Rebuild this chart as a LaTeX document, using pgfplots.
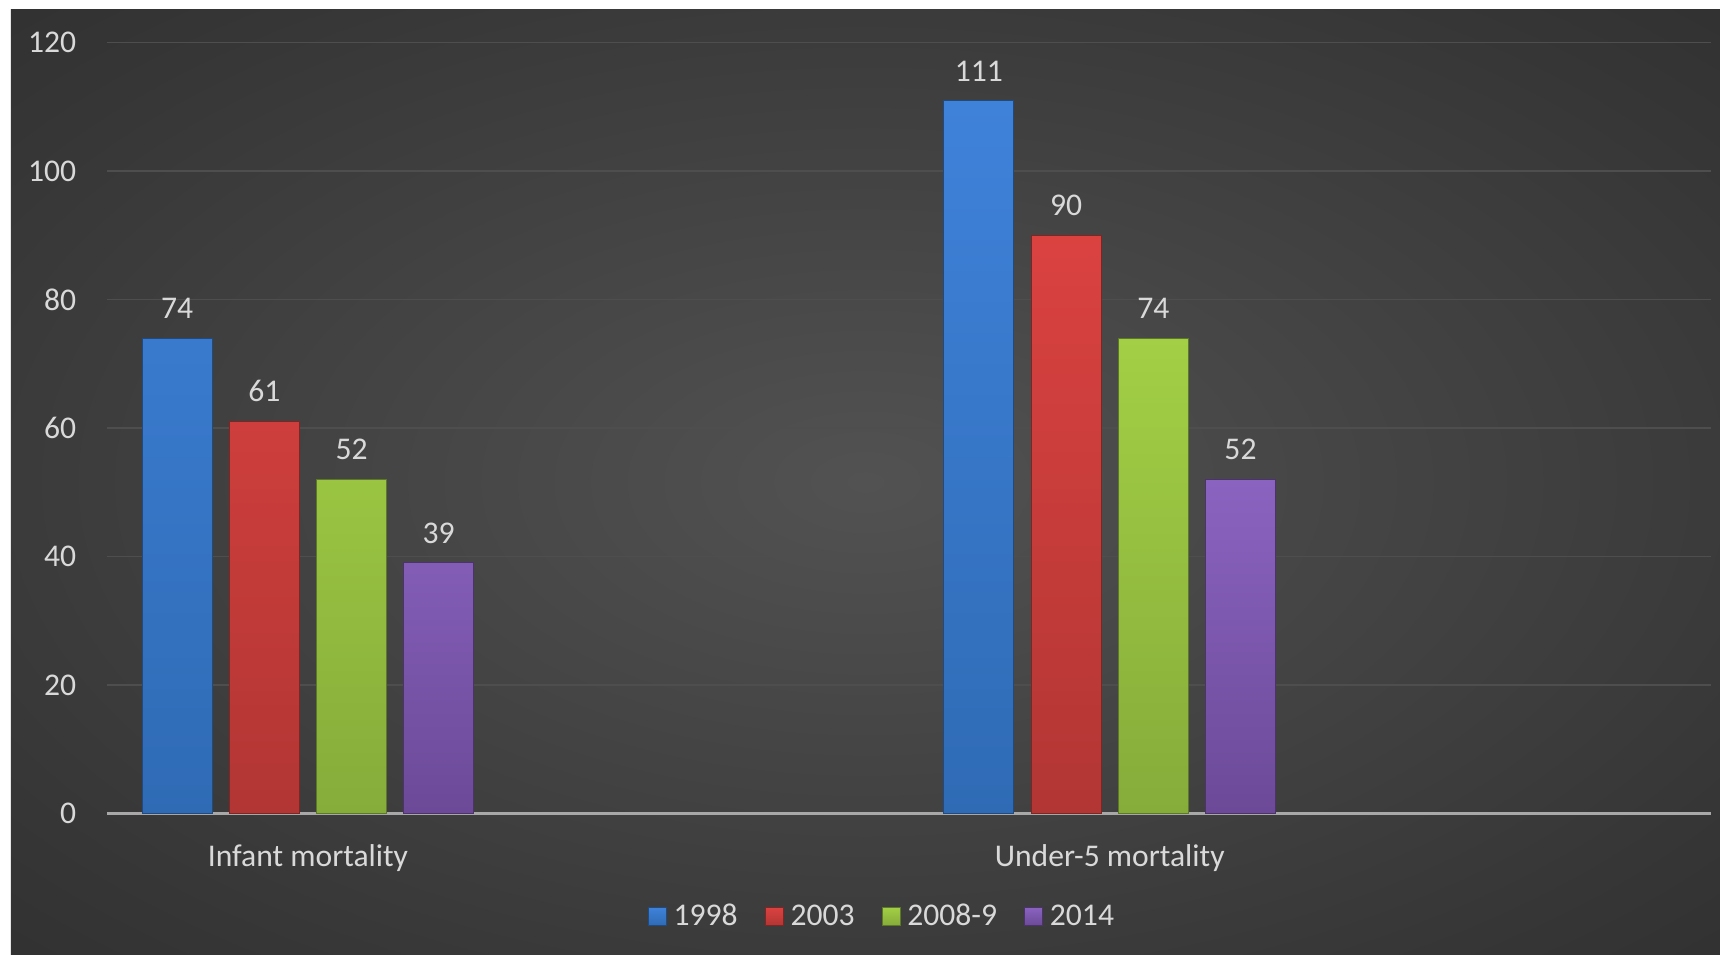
\documentclass[border=0pt]{standalone}
\usepackage{fontspec}
\setmainfont{Carlito}
\usepackage{pgfplots}
\pgfplotsset{compat=1.18}
\definecolor{txt}{HTML}{D9D9D9}
\definecolor{gridc}{HTML}{4E4E4E}
\definecolor{axc}{HTML}{A8A8A8}
\definecolor{bgin}{HTML}{525252}
\definecolor{bgmid}{HTML}{363636}
\definecolor{bgout}{HTML}{262626}
\definecolor{blueT}{HTML}{3F82DA}\definecolor{blueB}{HTML}{2F6BB5}
\definecolor{redT}{HTML}{DA4240}\definecolor{redB}{HTML}{B23634}
\definecolor{greenT}{HTML}{A2CF45}\definecolor{greenB}{HTML}{86AC3A}
\definecolor{purpT}{HTML}{8A63C0}\definecolor{purpB}{HTML}{6C4A98}
\pgfdeclareradialshading{bgshade}{\pgfpoint{0bp}{0bp}}{color(0bp)=(bgin); color(30bp)=(bgmid); color(50bp)=(bgout); color(72bp)=(bgout)}
\newcommand{\cf}{\fontsize{15.8}{19}\selectfont}
\begin{document}
\begin{tikzpicture}
\fill[white] (-53.75pt,-70.35pt) rectangle (806.25pt,406.65pt);
\shade[shading=bgshade] (-48.25pt,-70.35pt) rectangle (806.25pt,401.65pt);
\begin{axis}[
  at={(0,0)}, anchor=south west, scale only axis,
  width=801.75pt, height=385.3pt,
  xmin=-0.25, xmax=1.75, ymin=0, ymax=120,
  axis x line=bottom, axis y line=left,
  x axis line style={draw=axc, line width=1.3pt, -},
  y axis line style={draw=none},
  major tick length=0pt, tick style={draw=none},
  ytick={0,20,...,120},
  xtick={0,1}, xticklabels={Infant mortality, Under-5 mortality},
  ymajorgrids, grid style={draw=gridc, line width=0.8pt},
  /pgf/number format/assume math mode=true,
  yticklabel style={text=txt, font=\cf, anchor=east, inner sep=0pt, xshift=-15.5pt},
  xticklabel style={text=txt, font=\cf, anchor=north, inner sep=0pt, yshift=-15.2pt},
  ybar, bar width=35pt,
  nodes near coords,
  every node near coord/.append style={text=txt, font=\cf, anchor=south, inner sep=0pt, yshift=9.5pt},
  legend columns=4,
  legend style={at={(0.4836,-0.1337)}, anchor=center, draw=none, fill=none, text=txt, font=\cf,
    /tikz/every odd column/.append style={column sep=1.5pt},
    /tikz/every even column/.append style={column sep=11.5pt}},
  legend image code/.code={\fill[#1] (0pt,-4.5pt) rectangle (9pt,4.5pt);},
]
\addplot[bar shift=-65.4pt, draw=blueB!70!black, line width=0.4pt, top color=blueT, bottom color=blueB] coordinates {(0,74) (1,111)};
\addplot[bar shift=-21.8pt, draw=redB!70!black, line width=0.4pt, top color=redT, bottom color=redB] coordinates {(0,61) (1,90)};
\addplot[bar shift=21.8pt, draw=greenB!70!black, line width=0.4pt, top color=greenT, bottom color=greenB] coordinates {(0,52) (1,74)};
\addplot[bar shift=65.4pt, draw=purpB!70!black, line width=0.4pt, top color=purpT, bottom color=purpB] coordinates {(0,39) (1,52)};
\legend{1998,2003,2008-9,2014}
\end{axis}
\end{tikzpicture}
\end{document}
